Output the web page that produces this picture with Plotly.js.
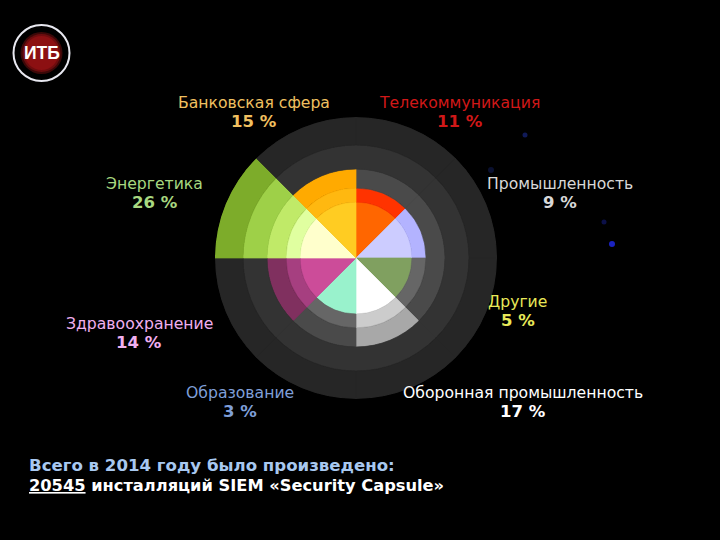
<!DOCTYPE html>
<html><head><meta charset="utf-8">
<script src="https://cdn.plot.ly/plotly-3.0.1.min.js"></script>
<style>html,body{margin:0;padding:0;background:#000}</style></head>
<body><div id="chart" style="width:720px;height:540px"></div>
<script>
const sectors = ["Телекоммуникация","Промышленность","Другие","Оборонная промышленность","Образование","Здравоохранение","Энергетика","Банковская сфера"];
const shares = [11,9,5,17,3,14,26,15];
const labelColors = ["#d01818","#d8d8d8","#e8e858","#ffffff","#7f9fd8","#f0b0f0","#a8d880","#f0c060"];
const labelX = [460,560,517.5,523,240,139,154.5,254];
const labelY = [102.5,183.5,301,392,392,323,183.5,102.5];
const angles = [22.5,67.5,112.5,157.5,202.5,247.5,292.5,337.5];
const ring1 = [56,56,56,56,56,56,56,56];
const ring2 = [14,14,14,14,14,14,14,14];
const ring3 = [19,19,19,19,19,19,19,19];
const ring4 = [24,24,24,24,24,24,24,24];
const ring5 = [28,28,28,28,28,28,28,28];
const color1 = ["#ff6600","#ccccff","#80a060","#ffffff","#99f2cc","#cc4c99","#ffffcc","#ffcc22"];
const color2 = ["#ff3300","#b3b3ff","#666666","#cccccc","#666666","#a63f80","#e0ffa0","#ffb810"];
const color3 = ["#4a4a4a","#4a4a4a","#4a4a4a","#a8a8a8","#4a4a4a","#80305f","#c0ea68","#ffaa00"];
const color4 = ["#333333","#333333","#333333","#333333","#333333","#333333","#9ed048","#333333"];
const color5 = ["#262626","#262626","#262626","#262626","#262626","#262626","#7dac2a","#262626"];
const footerLine1 = "Всего в 2014 году было произведено:";
const footerCount = "20545";
const footerLine2 = " инсталляций SIEM «Security Capsule»";

const cx=356, cy=258, R=141, W=720, H=540;
const ordered=[[ring1,color1],[ring2,color2],[ring3,color3],[ring4,color4],[ring5,color5]];
const traces=ordered.map(([r,c])=>({type:'barpolar',r:r,theta:angles,width:45,
  marker:{color:c,line:{width:0.7,color:c}},hoverinfo:'skip'}));
const fnt='DejaVu Sans';
const ann=[];
sectors.forEach((s,i)=>{
  ann.push({x:labelX[i]/W,y:1-labelY[i]/H,xref:'paper',yref:'paper',showarrow:false,
    text:s,font:{family:fnt,size:15.65,color:labelColors[i]},xanchor:'center',yanchor:'middle'});
  ann.push({x:labelX[i]/W,y:1-(labelY[i]+19)/H,xref:'paper',yref:'paper',showarrow:false,
    text:'<b>'+shares[i]+' %</b>',font:{family:fnt,size:16.5,color:labelColors[i]},xanchor:'center',yanchor:'middle'});
});
ann.push({x:27/W,y:1-465/H,xref:'paper',yref:'paper',showarrow:false,xanchor:'left',yanchor:'middle',
  text:'<b>'+footerLine1+'</b>',font:{family:fnt,size:16.6,color:'#a8c8f0'}});
ann.push({x:27/W,y:1-485/H,xref:'paper',yref:'paper',showarrow:false,xanchor:'left',yanchor:'middle',
  text:'<b><u>'+footerCount+'</u>'+footerLine2+'</b>',font:{family:fnt,size:16.25,color:'#ffffff'}});
ann.push({x:42/W,y:1-53/H,xref:'paper',yref:'paper',showarrow:false,xanchor:'center',yanchor:'middle',
  text:'<b>ИТБ</b>',font:{family:'Liberation Sans',size:17.5,color:'#ffffff'}});
const circle=(x,y,r,o)=>Object.assign({type:'circle',xref:'paper',yref:'paper',
  x0:(x-r)/W,x1:(x+r)/W,y0:1-(y+r)/H,y1:1-(y-r)/H},o);
Plotly.newPlot('chart',traces,{
  width:W,height:H,margin:{l:0,r:0,t:0,b:0},paper_bgcolor:'#000',showlegend:false,
  polar:{bgcolor:'rgba(0,0,0,0)',barmode:'stack',bargap:0,
    domain:{x:[(cx-R)/W,(cx+R)/W],y:[1-(cy+R)/H,1-(cy-R)/H]},
    radialaxis:{range:[0,141],visible:false,showgrid:false},
    angularaxis:{direction:'clockwise',rotation:90,visible:false,showgrid:false}},
  shapes:[
    circle(41.5,53,28,{line:{color:'#e8e8f0',width:2},fillcolor:'#000'}),
    circle(41.5,53,21,{line:{width:0},fillcolor:'#3c0808'}),
    circle(41.5,53,19,{line:{width:0},fillcolor:'#6e0c0e'}),
    circle(41.5,53,17,{line:{width:0},fillcolor:'#8c1012'}),
    circle(612,244,3,{line:{width:0},fillcolor:'#1a22c0'}),
    circle(604,222,2.5,{line:{width:0},fillcolor:'#0c1048'}),
    circle(525,135,2.5,{line:{width:0},fillcolor:'#101a58'}),
    circle(491,170,3,{line:{width:0},fillcolor:'#0a1030'}),
  ],
  annotations:ann
},{displayModeBar:false,staticPlot:true});
</script></body></html>
